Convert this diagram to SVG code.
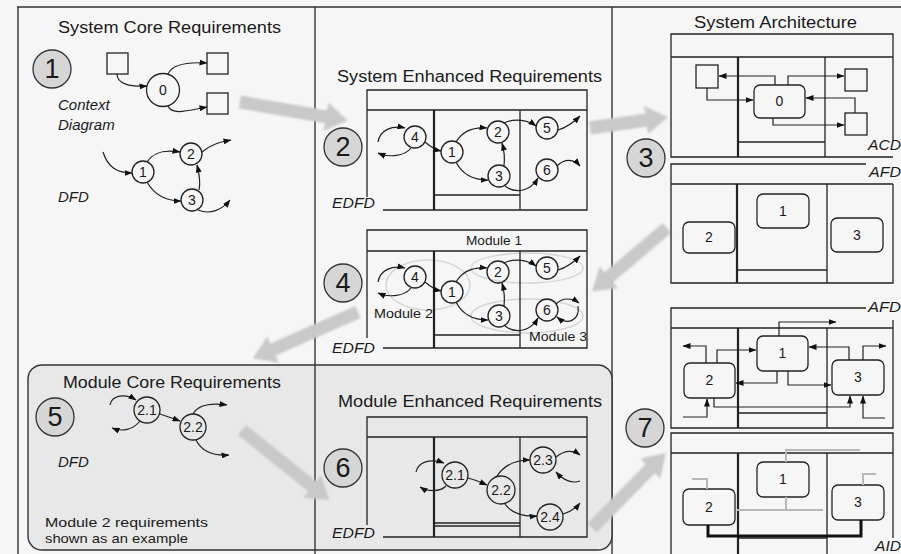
<svg xmlns="http://www.w3.org/2000/svg" width="901" height="554" viewBox="0 0 901 554">
<style>
.t{font-family:"Liberation Sans",Arial,sans-serif;fill:#1a1a1a}
.h{font-size:16px}
.i{font-size:15px;font-style:italic}
.m{font-size:13px}
.c{font-size:14px;text-anchor:middle}
.s{font-size:27px;text-anchor:middle}
.ln{fill:none;stroke:#222;stroke-width:1.3}
.tk{fill:none;stroke:#222;stroke-width:2.2}
.fr{fill:none;stroke:#333;stroke-width:1.4}
.bub{fill:none;stroke:#222;stroke-width:1.3}
.step{fill:#d6d6d6;stroke:#333;stroke-width:1.3}
.sq{fill:none;stroke:#222;stroke-width:1.3}
.box{fill:none;stroke:#222;stroke-width:1.3}
.ar{fill:none;stroke:#222;stroke-width:1.2;marker-end:url(#a)}
.gl{fill:none;stroke:#b8b8b8;stroke-width:2}
.mod{fill:none;stroke:#d6d6d6;stroke-width:1.5}
.big{fill:none;stroke:#c9c9c9;stroke-width:13;marker-end:url(#g)}
</style>
<defs>
<marker id="a" viewBox="0 0 8 6" refX="7.5" refY="3" markerWidth="8" markerHeight="6" markerUnits="userSpaceOnUse" orient="auto"><path d="M0,0 L8,3 L0,6 z" fill="#111"/></marker>
<marker id="g" viewBox="0 0 10 10" refX="0.5" refY="5" markerWidth="1.7" markerHeight="2.2" orient="auto" preserveAspectRatio="none"><path d="M0,0 L10,5 L0,10 z" fill="#c9c9c9"/></marker>
<filter id="soft" x="-20%" y="-20%" width="140%" height="140%"><feGaussianBlur stdDeviation="1.3"/></filter>
</defs>
<rect x="0" y="0" width="901" height="554" fill="#f6f6f6"/>
<g id="frame">
<path class="fr" d="M17,7 H901 M18,7 V554 M315,7 V554 M612,7 V554"/>
<rect x="28" y="365" width="584" height="185" rx="14" fill="#e8e8e8" stroke="#333" stroke-width="1.4"/>
<path class="fr" d="M315,365 V550"/>
</g>

<g id="bigarrows" filter="url(#soft)">
<path class="big" d="M240,102 L327,117"/>
<path class="big" d="M590,128 L647,120"/>
<path class="big" d="M667,228 L608,278"/>
<path class="big" d="M358,312 L272,350"/>
<path class="big" d="M242,430 L313,487"/>
<path class="big" d="M592,528 L651,468"/>
</g>

<!-- Section 1 -->
<g id="sec1">
<text class="t h" x="58" y="33" textLength="223" lengthAdjust="spacingAndGlyphs">System Core Requirements</text>
<g id="step1"><circle class="step" cx="52" cy="69" r="19"/><text class="t s" x="52" y="78">1</text></g>
<g id="ctx-sqL"><rect class="sq" x="107" y="53" width="21" height="21"/></g>
<g id="ctx-sqTR"><rect class="sq" x="207" y="53" width="21" height="21"/></g>
<g id="ctx-sqBR"><rect class="sq" x="207" y="93" width="21" height="21"/></g>
<g id="ctx-0"><circle class="bub" cx="163" cy="90" r="16.5"/><text class="t c" x="163" y="95">0</text></g>
<text class="t i" x="58" y="110">Context</text>
<text class="t i" x="58" y="130">Diagram</text>
<g id="dfd1-1"><circle class="bub" cx="143" cy="172" r="11"/><text class="t c" x="143" y="177">1</text></g>
<g id="dfd1-2"><circle class="bub" cx="191" cy="154" r="11"/><text class="t c" x="191" y="159">2</text></g>
<g id="dfd1-3"><circle class="bub" cx="192" cy="200" r="11"/><text class="t c" x="192" y="205">3</text></g>
<text class="t i" x="58" y="202">DFD</text>
</g>

<!-- Section 2 -->
<g id="sec2">
<text class="t h" x="337" y="82" textLength="265" lengthAdjust="spacingAndGlyphs">System Enhanced Requirements</text>
<g id="step2"><circle class="step" cx="343" cy="147" r="19"/><text class="t s" x="343" y="156">2</text></g>
<path class="box" d="M367,197 V90 H587 V210 H383 M367,110 H587 M520,110 V210 M434,195 H520"/>
<path class="tk" d="M434,110 V210"/>
<text class="t i" x="332" y="208" textLength="43" lengthAdjust="spacingAndGlyphs">EDFD</text>
<g id="e2-4"><circle class="bub" cx="415" cy="137" r="11"/><text class="t c" x="415" y="142">4</text></g>
<g id="e2-1"><circle class="bub" cx="452" cy="152" r="11"/><text class="t c" x="452" y="157">1</text></g>
<g id="e2-2"><circle class="bub" cx="498" cy="132" r="11"/><text class="t c" x="498" y="137">2</text></g>
<g id="e2-3"><circle class="bub" cx="499" cy="176" r="11"/><text class="t c" x="499" y="181">3</text></g>
<g id="e2-5"><circle class="bub" cx="547" cy="128" r="11"/><text class="t c" x="547" y="133">5</text></g>
<g id="e2-6"><circle class="bub" cx="547" cy="170" r="11"/><text class="t c" x="547" y="175">6</text></g>
</g>

<!-- Section 4 -->
<g id="sec4">
<g id="step4"><circle class="step" cx="343" cy="283" r="19"/><text class="t s" x="343" y="292">4</text></g>
<ellipse class="mod" cx="428" cy="285" rx="42" ry="25"/>
<ellipse class="mod" cx="527" cy="268" rx="56" ry="15"/>
<ellipse class="mod" cx="527" cy="316" rx="56" ry="17"/>
<path class="box" d="M367,338 V230 H587 V348 H383 M367,251 H587 M520,251 V348 M434,335 H520"/>
<path class="tk" d="M434,251 V348"/>
<text class="t m" x="466" y="245" textLength="56" lengthAdjust="spacingAndGlyphs">Module 1</text>
<text class="t m" x="374" y="318" textLength="59" lengthAdjust="spacingAndGlyphs">Module 2</text>
<text class="t m" x="529" y="341" textLength="58" lengthAdjust="spacingAndGlyphs">Module 3</text>
<text class="t i" x="332" y="353" textLength="43" lengthAdjust="spacingAndGlyphs">EDFD</text>
<g id="e4-4"><circle class="bub" cx="415" cy="277" r="11"/><text class="t c" x="415" y="282">4</text></g>
<g id="e4-1"><circle class="bub" cx="452" cy="292" r="11"/><text class="t c" x="452" y="297">1</text></g>
<g id="e4-2"><circle class="bub" cx="498" cy="272" r="11"/><text class="t c" x="498" y="277">2</text></g>
<g id="e4-3"><circle class="bub" cx="499" cy="316" r="11"/><text class="t c" x="499" y="321">3</text></g>
<g id="e4-5"><circle class="bub" cx="547" cy="268" r="11"/><text class="t c" x="547" y="273">5</text></g>
<g id="e4-6"><circle class="bub" cx="547" cy="310" r="11"/><text class="t c" x="547" y="315">6</text></g>
</g>

<!-- Section 5 -->
<g id="sec5">
<text class="t h" x="63" y="388" textLength="218" lengthAdjust="spacingAndGlyphs">Module Core Requirements</text>
<g id="step5"><circle class="step" cx="55" cy="417" r="19" fill="#e0e0e0"/><text class="t s" x="55" y="426">5</text></g>
<g id="m5-21"><circle class="bub" cx="147" cy="410" r="13"/><text class="t c" x="147" y="415">2.1</text></g>
<g id="m5-22"><circle class="bub" cx="193" cy="427" r="13"/><text class="t c" x="193" y="432">2.2</text></g>
<text class="t i" x="58" y="467">DFD</text>
<text class="t m" x="45" y="527" font-size="14" textLength="163" lengthAdjust="spacingAndGlyphs">Module 2 requirements</text>
<text class="t m" x="45" y="543" font-size="14" textLength="143" lengthAdjust="spacingAndGlyphs">shown as an example</text>
</g>

<!-- Section 6 -->
<g id="sec6">
<text class="t h" x="338" y="407" textLength="264" lengthAdjust="spacingAndGlyphs">Module Enhanced Requirements</text>
<g id="step6"><circle class="step" cx="343" cy="468" r="19"/><text class="t s" x="343" y="477">6</text></g>
<path class="box" d="M367,525 V417 H587 V537 H383 M367,437 H587 M520,437 V537 M434,523 H520 M434,526 H520"/>
<path class="tk" d="M434,437 V537"/>
<text class="t i" x="332" y="538" textLength="43" lengthAdjust="spacingAndGlyphs">EDFD</text>
<g id="m6-21"><circle class="bub" cx="455" cy="475" r="13"/><text class="t c" x="455" y="480">2.1</text></g>
<g id="m6-22"><circle class="bub" cx="501" cy="490" r="14"/><text class="t c" x="501" y="495">2.2</text></g>
<g id="m6-23"><circle class="bub" cx="543" cy="460" r="13"/><text class="t c" x="543" y="465">2.3</text></g>
<g id="m6-24"><circle class="bub" cx="550" cy="517" r="13"/><text class="t c" x="550" y="522">2.4</text></g>
</g>

<!-- Section 3 -->
<g id="sec3">
<text class="t h" x="694" y="28" textLength="163" lengthAdjust="spacingAndGlyphs">System Architecture</text>
<g id="step3"><circle class="step" cx="646" cy="158" r="19"/><text class="t s" x="646" y="167">3</text></g>
<path class="box" d="M893,140 V34 H671 V157 H893 M671,57 H893 M825,57 V157 M738,142 H825"/>
<path class="tk" d="M738,57 V157"/>
<text class="t i" x="868" y="150" textLength="33" lengthAdjust="spacingAndGlyphs">ACD</text>
<g id="acd-sqL"><rect class="sq" x="696" y="65" width="22" height="23"/></g>
<g id="acd-sqTR"><rect class="sq" x="845" y="69" width="22" height="22"/></g>
<g id="acd-sqBR"><rect class="sq" x="845" y="113" width="22" height="22"/></g>
<g id="acd-0"><rect class="sq" x="754" y="85" width="51" height="33" rx="6"/><text class="t c" x="779.5" y="106">0</text></g>
<path class="box" d="M866,164 H671 V283 H893 V184 M671,184 H893 M827,184 V283 M737,270 H827"/>
<path class="tk" d="M737,184 V283"/>
<text class="t i" x="869" y="177" textLength="32" lengthAdjust="spacingAndGlyphs">AFD</text>
<g id="afd-2"><rect class="sq" x="683" y="222" width="52" height="31" rx="6"/><text class="t c" x="709" y="242">2</text></g>
<g id="afd-1"><rect class="sq" x="757" y="194" width="52" height="34" rx="6"/><text class="t c" x="783" y="216">1</text></g>
<g id="afd-3"><rect class="sq" x="831" y="218" width="52" height="34" rx="6"/><text class="t c" x="857" y="240">3</text></g>
</g>

<!-- Section 7 -->
<g id="sec7">
<g id="step7"><circle class="step" cx="645" cy="428" r="19"/><text class="t s" x="645" y="437">7</text></g>
<path class="box" d="M866,308 H671 V428 H893 V320 M671,328 H893 M827,328 V428 M738,413 H827"/>
<path class="tk" d="M738,328 V428"/>
<text class="t i" x="868" y="312" textLength="33" lengthAdjust="spacingAndGlyphs">AFD</text>
<g id="afd7-2"><rect class="sq" x="684" y="363" width="51" height="35" rx="6"/><text class="t c" x="709.5" y="385">2</text></g>
<g id="afd7-1"><rect class="sq" x="757" y="336" width="51" height="35" rx="6"/><text class="t c" x="782.5" y="358">1</text></g>
<g id="afd7-3"><rect class="sq" x="832" y="360" width="52" height="35" rx="6"/><text class="t c" x="858" y="382">3</text></g>
<path class="box" d="M671,554 V433 H893 V538 M671,453 H893 M827,453 V554 M738,538 H827"/>
<path class="tk" d="M738,453 V554"/>
<text class="t i" x="875" y="551" textLength="26" lengthAdjust="spacingAndGlyphs">AID</text>
<g id="aid-1"><rect class="sq" x="757" y="462" width="52" height="35" rx="6"/><text class="t c" x="783" y="484">1</text></g>
<g id="aid-2"><rect class="sq" x="683" y="489" width="52" height="36" rx="6"/><text class="t c" x="709" y="512">2</text></g>
<g id="aid-3"><rect class="sq" x="832" y="485" width="52" height="35" rx="6"/><text class="t c" x="858" y="507">3</text></g>
</g>

<g id="connectors">
<path class="ar" d="M117,74 C117,84 130,87 147,86"/>
<path class="ar" d="M168,74 C172,64 190,62 207,63"/>
<path class="ar" d="M168,106 C172,116 190,110 207,107"/>
<path class="ar" d="M103,152 C108,168 118,173 132,173"/>
<path class="ar" d="M147,162 C155,150 168,150 180,152"/>
<path class="ar" d="M147,182 C155,196 168,201 181,201"/>
<path class="ar" d="M199,190 C201,182 199,173 197,165"/>
<path class="ar" d="M202,152 C212,144 220,142 231,140"/>
<path class="ar" d="M198,210 C210,215 222,210 230,200"/>
<path class="ar" d="M378,142 C380,130 392,125 405,128"/>
<path class="ar" d="M411,148 C405,156 390,158 378,153"/>
<path class="ar" d="M425,142 C432,148 436,150 441,151"/>
<path class="ar" d="M456,142 C463,130 475,127 487,128"/>
<path class="ar" d="M456,162 C463,176 475,180 488,180"/>
<path class="ar" d="M504,166 C505,158 504,150 502,143"/>
<path class="ar" d="M504,123 C515,118 528,120 536,126"/>
<path class="ar" d="M558,130 C565,128 572,124 580,116"/>
<path class="ar" d="M505,186 C515,194 530,192 538,178"/>
<path class="ar" d="M557,166 C565,158 574,159 580,166"/>
<path class="ar" d="M378,282 C380,270 392,265 405,268"/>
<path class="ar" d="M411,288 C405,296 390,298 378,293"/>
<path class="ar" d="M425,282 C432,288 436,290 441,291"/>
<path class="ar" d="M456,282 C463,270 475,267 487,268"/>
<path class="ar" d="M456,302 C463,316 475,320 488,320"/>
<path class="ar" d="M504,306 C505,298 504,290 502,283"/>
<path class="ar" d="M504,263 C515,258 528,260 536,266"/>
<path class="ar" d="M558,270 C565,268 572,264 580,256"/>
<path class="ar" d="M505,326 C515,334 530,332 538,318"/>
<path class="ar" d="M556,304 C563,297 572,298 579,303"/>
<path class="ar" d="M578,306 C580,320 568,326 557,317"/>
<path class="ar" d="M110,405 C112,395 125,393 136,400"/>
<path class="ar" d="M140,421 C133,430 122,432 112,428"/>
<path class="ar" d="M160,414 C166,416 172,418 180,421"/>
<path class="ar" d="M193,414 C198,405 212,403 227,405"/>
<path class="ar" d="M196,440 C202,452 214,456 229,455"/>
<path class="ar" d="M416,472 C418,462 430,458 444,463"/>
<path class="ar" d="M446,486 C440,492 428,492 420,487"/>
<path class="ar" d="M468,478 C476,480 480,482 487,485"/>
<path class="ar" d="M497,476 C505,464 518,460 530,460"/>
<path class="ar" d="M505,504 C512,514 525,517 537,516"/>
<path class="ar" d="M556,457 C565,450 573,450 580,455"/>
<path class="ar" d="M580,481 C572,484 563,480 556,472"/>
<path class="ar" d="M563,514 C570,512 576,508 580,503"/>
<path class="ar" d="M775,85 V76 H719"/>
<path class="ar" d="M707,88 V100 H753"/>
<path class="ar" d="M788,85 V76 H844"/>
<path class="ar" d="M855,113 V98 H806"/>
<path class="ar" d="M773,118 V125 H844"/>
<path class="ar" d="M779,336 V322 H836"/>
<path class="ar" d="M706,363 V346 H683"/>
<path class="ar" d="M717,363 V350 H756"/>
<path class="ar" d="M849,360 V347 H809"/>
<path class="ar" d="M863,360 V346 H886"/>
<path class="ar" d="M777,371 V383 H736"/>
<path class="ar" d="M788,371 V385 H831"/>
<path class="ar" d="M714,398 V407 H850 V396"/>
<path class="ar" d="M683,417 H707 V399"/>
<path class="ar" d="M885,418 H863 V396"/>
<path class="gl" d="M786,462 V450 H860 M707,489 V479 H692 M863,485 V474 H876 M786,497 V510 M737,510 H823"/>
<path fill="none" stroke="#111" stroke-width="3" d="M708,525 V536 H861 V520"/>
</g>
</svg>
